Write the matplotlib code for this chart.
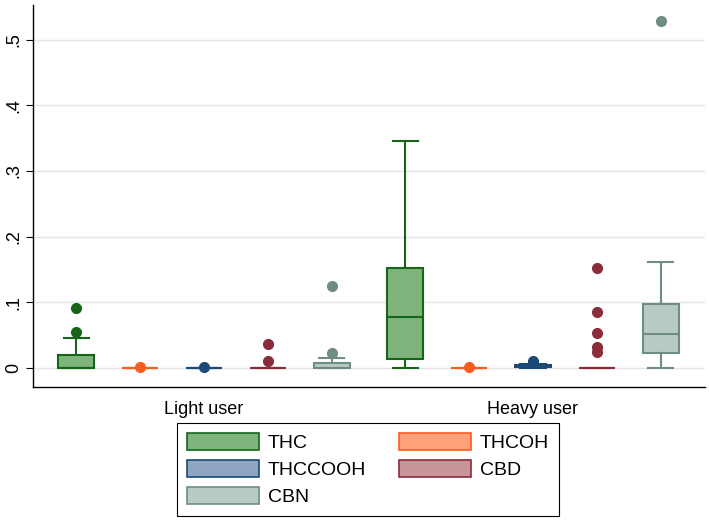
import matplotlib.pyplot as plt
from matplotlib.patches import Patch

# compounds and groups
compounds = ['THC', 'THCOH', 'THCCOOH', 'CBD', 'CBN']
groups = ['Light user', 'Heavy user']

edge_cols = ['#16661a', '#ff5a1e', '#1c4a78', '#8c2c3a', '#6e8e85']
face_cols = ['#80b47d', '#ffa27c', '#8ea6c0', '#c8959b', '#b8cbc4']

# box stats: whislo, q1, med, q3, whishi, outliers
light_lo = [0.0, 0.0, 0.0, 0.0, 0.0]
light_q1 = [0.0, 0.0, 0.0, 0.0, 0.0]
light_med = [0.0, 0.0, 0.0, 0.0, 0.0]
light_q3 = [0.020, 0.0, 0.0, 0.0, 0.007]
light_hi = [0.045, 0.0, 0.0, 0.0, 0.015]
light_out = [[0.055, 0.092], [0.001], [0.001], [0.011, 0.037], [0.023, 0.125]]

heavy_lo = [0.0, 0.0, 0.0, 0.0, 0.0]
heavy_q1 = [0.014, 0.0, 0.001, 0.0, 0.023]
heavy_med = [0.078, 0.0, 0.001, 0.0, 0.051]
heavy_q3 = [0.152, 0.0, 0.004, 0.0, 0.098]
heavy_hi = [0.346, 0.0, 0.006, 0.0, 0.162]
heavy_out = [[], [0.002], [0.011], [0.024, 0.032, 0.054, 0.085, 0.153], [0.528]]

yticks = [0, 0.1, 0.2, 0.3, 0.4, 0.5]
yticklabels = ['0', '.1', '.2', '.3', '.4', '.5']

plt.rcParams['font.family'] = ['Liberation Sans', 'DejaVu Sans']

fig = plt.figure(figsize=(7.09, 5.2), dpi=100)
ax = fig.add_axes([33 / 709, 1 - 387 / 520, 672 / 709, 382 / 520])

spacing = 0.194
bw = 0.109
data = [(light_lo, light_q1, light_med, light_q3, light_hi, light_out),
        (heavy_lo, heavy_q1, heavy_med, heavy_q3, heavy_hi, heavy_out)]

for g, (lo, q1, med, q3, hi, out) in enumerate(data):
    for k in range(len(compounds)):
        st = dict(whislo=lo[k], q1=q1[k], med=med[k], q3=q3[k],
                  whishi=hi[k], fliers=out[k])
        pos = g + (k - 2) * spacing
        ec = edge_cols[k]
        ax.bxp([st], positions=[pos], widths=bw, capwidths=bw * 0.7,
               patch_artist=True, showfliers=True,
               boxprops=dict(facecolor=face_cols[k], edgecolor=ec, linewidth=1.5),
               medianprops=dict(color=ec, linewidth=1.5),
               whiskerprops=dict(color=ec, linewidth=1.5),
               capprops=dict(color=ec, linewidth=1.5),
               flierprops=dict(marker='o', markerfacecolor=ec, markeredgecolor=ec,
                               markersize=7, linestyle='none'),
               zorder=3)

ax.set_xlim(-0.52, 1.523)
ax.set_ylim(-0.029, 0.553)
ax.set_xticks([0, 1])
ax.set_xticklabels(groups, fontsize=13)
ax.tick_params(axis='x', length=0, pad=10)
ax.set_yticks(yticks)
ax.set_yticklabels(yticklabels, rotation=90, va='center', fontsize=13)
ax.tick_params(axis='y', length=5, width=0.8, pad=3)
ax.yaxis.grid(True, color='#e4e4e4', linewidth=1)
ax.set_axisbelow(True)
for s in ['top', 'right']:
    ax.spines[s].set_visible(False)
for s in ['left', 'bottom']:
    ax.spines[s].set_linewidth(1)

# legend fills row by row in the reference, matplotlib fills by column
order = [0, 2, 4, 1, 3]
handles = [Patch(facecolor=face_cols[k], edgecolor=edge_cols[k], linewidth=1.2,
                 label=compounds[k]) for k in order]
leg = fig.legend(handles=handles, ncol=2, loc='upper center',
                 bbox_to_anchor=(368 / 709, 1 - 423 / 520), fontsize=14,
                 handlelength=3.7, handleheight=1.0, handletextpad=0.46,
                 columnspacing=1.7, labelspacing=0.4, borderpad=0.5,
                 borderaxespad=0, fancybox=False, edgecolor='black', framealpha=1)
leg.get_frame().set_linewidth(0.8)

fig.savefig('out.png', dpi=100)
